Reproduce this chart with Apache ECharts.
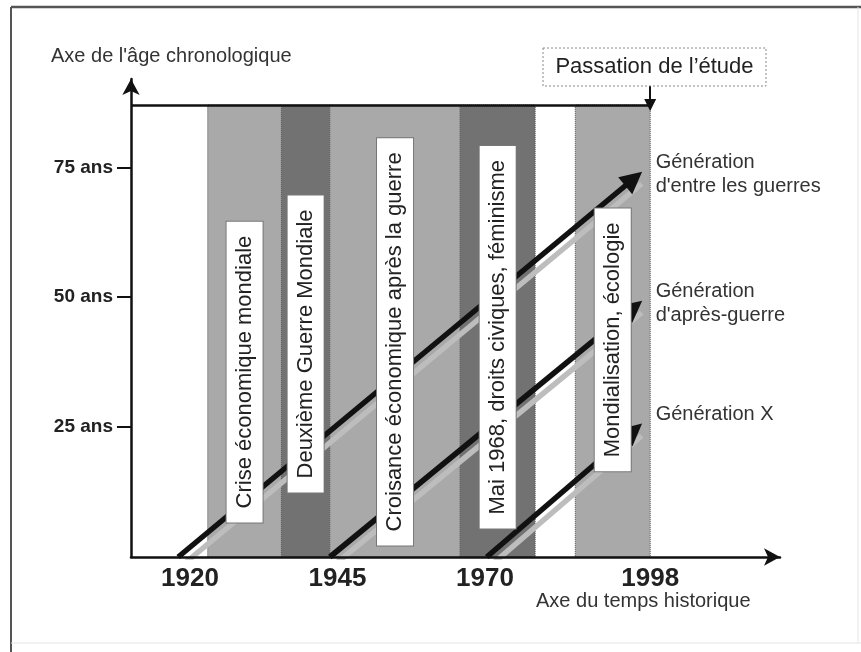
<!DOCTYPE html>
<html>
<head>
<meta charset="utf-8">
<script src="https://cdn.jsdelivr.net/npm/echarts@6/dist/echarts.min.js"></script>
<style>
  html, body { margin: 0; padding: 0; background: #fff; }
  #main { width: 861px; height: 652px; }
</style>
</head>
<body>
<div id="main"></div>
<script>
// periods shown as vertical bands (years)
var periods = ['Crise économique mondiale', 'Deuxième Guerre Mondiale', 'Croisance économique après la guerre', 'Mai 1968, droits civiques, féminisme', 'Mondialisation, écologie'];
var periodStart = [1923, 1935.5, 1943.7, 1965.8, 1985.3];
var periodEnd = [1935.5, 1943.7, 1965.8, 1978.5, 1998];
var periodLabelAge = [35.6, 41, 41.4, 42.3, 41.8];

// generations: birth year -> age reached at the study
var generations = ["Génération\nd'entre les guerres", "Génération\nd'après-guerre", 'Génération X'];
var birthYear = [1918, 1943.7, 1970.3];
var endYear = [1995.2, 1995.2, 1995.2];
var endAge = [72.8, 48, 24.3];

var yearTicks = [1920, 1945, 1970, 1998];
var ageTicks = [25, 50, 75];
var studyYear = 1998;
var topAge = 87;
var studyArrowFrom = 90.6;

var shades = ['#a9a9a9', '#727272', '#a9a9a9', '#727272', '#a9a9a9'];
var font = "'Liberation Sans', Arial, sans-serif";

var myChart = echarts.init(document.getElementById('main'));

var bandAreas = periods.map(function (p, i) {
    return [
        { xAxis: periodStart[i], yAxis: 0, itemStyle: { color: shades[i] } },
        { xAxis: periodEnd[i], yAxis: topAge }
    ];
});

var option = {
    backgroundColor: '#fff',
    animation: false,
    grid: { left: 131, right: 81, top: 79, bottom: 95 },
    xAxis: {
        type: 'value',
        min: 1910,
        max: 2020,
        z: 10,
        splitLine: { show: false },
        axisLine: {
            onZero: false,
            symbol: ['none', 'arrow'],
            symbolSize: [13, 16],
            lineStyle: { color: '#111', width: 2.5 }
        },
        axisTick: { show: false },
        axisLabel: {
            customValues: yearTicks,
            formatter: function (v) { return String(v); },
            margin: 9,
            fontSize: 26,
            fontWeight: 'bold',
            fontFamily: font,
            color: '#222'
        }
    },
    yAxis: {
        type: 'value',
        min: 0,
        max: 92,
        z: 10,
        splitLine: { show: false },
        axisLine: {
            symbol: ['none', 'arrow'],
            symbolSize: [13, 16],
            lineStyle: { color: '#111', width: 2.5 }
        },
        axisTick: {
            customValues: ageTicks,
            length: 14,
            lineStyle: { color: '#111', width: 2 }
        },
        axisLabel: {
            customValues: ageTicks,
            formatter: '{value} ans',
            margin: 18,
            fontSize: 19,
            fontWeight: 'bold',
            fontFamily: font,
            color: '#222'
        }
    },
    graphic: [
        { type: 'line', shape: { x1: 11, y1: 7, x2: 861, y2: 7 }, style: { stroke: '#555', lineWidth: 2.5 } },
        { type: 'line', shape: { x1: 11, y1: 7, x2: 11, y2: 652 }, style: { stroke: '#555', lineWidth: 2 } },
        { type: 'line', shape: { x1: 11, y1: 643, x2: 861, y2: 643 }, style: { stroke: '#e4e4e4', lineWidth: 1 } },
        { type: 'line', shape: { x1: 858, y1: 7, x2: 858, y2: 643 }, style: { stroke: '#e4e4e4', lineWidth: 1 } },
        { type: 'text', left: 51, top: 46, style: { text: "Axe de l'âge chronologique", fontSize: 20, fontFamily: font, fill: '#333' } },
        { type: 'text', left: 536, top: 591, style: { text: 'Axe du temps historique', fontSize: 20, fontFamily: font, fill: '#333' } },
        { type: 'rect', shape: { x: 543, y: 48, width: 223, height: 38 }, style: { fill: '#fff', stroke: '#888', lineWidth: 1, lineDash: [2, 2] } },
        { type: 'text', x: 654.5, y: 67, style: { text: 'Passation de l’étude', fontSize: 22, fontFamily: font, fill: '#222', align: 'center', verticalAlign: 'middle' } }
    ],
    series: [
        {
            name: 'bands',
            type: 'scatter',
            data: [],
            markArea: {
                silent: true,
                itemStyle: { borderColor: '#555', borderWidth: 1, borderType: 'dotted', opacity: 1 },
                data: bandAreas
            }
        },
        {
            name: 'frame',
            type: 'lines',
            coordinateSystem: 'cartesian2d',
            z: 4,
            symbol: ['none', 'triangle'],
            symbolSize: 12,
            lineStyle: { color: '#111', width: 2.5, opacity: 1 },
            data: [
                { coords: [[1910, topAge], [studyYear, topAge]], symbol: 'none' },
                { coords: [[studyYear, studyArrowFrom], [studyYear, topAge]], lineStyle: { width: 2 } }
            ]
        },
        {
            name: 'generations',
            type: 'lines',
            coordinateSystem: 'cartesian2d',
            z: 3,
            symbol: ['none', 'triangle'],
            symbolSize: 22,
            lineStyle: {
                color: '#111',
                width: 5.5,
                opacity: 1,
                shadowColor: '#bdbdbd',
                shadowBlur: 0,
                shadowOffsetX: 8,
                shadowOffsetY: 5
            },
            data: generations.map(function (g, i) {
                return { coords: [[birthYear[i], 0], [endYear[i], endAge[i]]] };
            })
        },
        {
            name: 'periodLabels',
            type: 'scatter',
            z: 6,
            symbolSize: 0,
            itemStyle: { color: 'rgba(0,0,0,0)', opacity: 1 },
            label: {
                show: true,
                position: 'inside',
                rotate: 90,
                formatter: '{b}',
                fontSize: 22,
                lineHeight: 24,
                fontFamily: font,
                color: '#222',
                opacity: 1,
                backgroundColor: '#fff',
                borderColor: '#777',
                borderWidth: 1,
                padding: [6, 14]
            },
            data: periods.map(function (p, i) {
                return { name: p, value: [(periodStart[i] + periodEnd[i]) / 2, periodLabelAge[i]] };
            })
        },
        {
            name: 'generationLabels',
            type: 'scatter',
            z: 6,
            symbolSize: 0,
            itemStyle: { color: 'rgba(0,0,0,0)', opacity: 1 },
            label: {
                show: true,
                position: 'right',
                distance: 22,
                verticalAlign: 'top',
                offset: [0, -28],
                formatter: '{b}',
                fontSize: 20,
                lineHeight: 24,
                fontFamily: font,
                color: '#333',
                opacity: 1
            },
            data: generations.map(function (g, i) {
                return { name: g, value: [endYear[i], endAge[i]] };
            })
        }
    ]
};
myChart.setOption(option);
</script>
</body>
</html>
